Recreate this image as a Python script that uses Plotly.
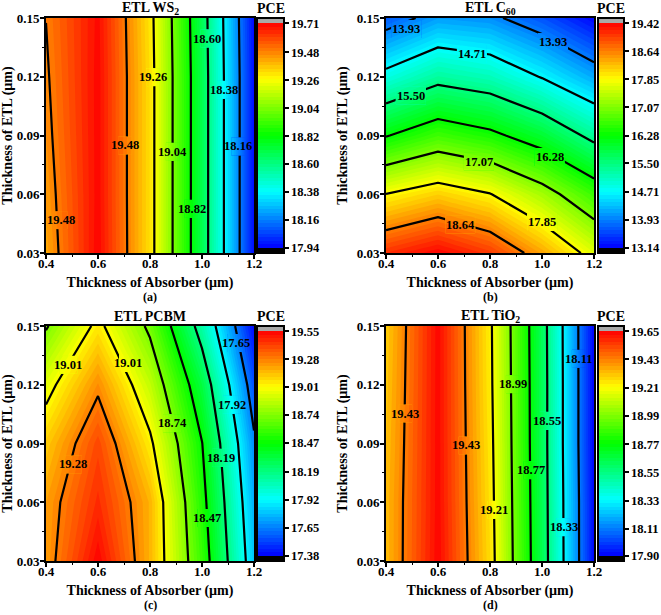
import math
import plotly.graph_objects as go

absorber = [0.4, 0.6, 0.8, 1.0, 1.2]
etl = [0.03, 0.06, 0.09, 0.12, 0.15]

titles = ["ETL WS<sub>2</sub>", "ETL C<sub>60</sub>", "ETL PCBM", "ETL TiO<sub>2</sub>"]
captions = ["(a)", "(b)", "(c)", "(d)"]

ticks_a = ["17.94", "18.16", "18.38", "18.60", "18.82", "19.04", "19.26", "19.48", "19.71"]
ticks_b = ["13.14", "13.93", "14.71", "15.50", "16.28", "17.07", "17.85", "18.64", "19.42"]
ticks_c = ["17.38", "17.65", "17.92", "18.19", "18.47", "18.74", "19.01", "19.28", "19.55"]
ticks_d = ["17.90", "18.11", "18.33", "18.55", "18.77", "18.99", "19.21", "19.43", "19.65"]

pce_a = [
    [19.42, 19.705, 19.32, 18.69, 17.96],
    [19.44, 19.70, 19.32, 18.69, 17.96],
    [19.46, 19.70, 19.32, 18.69, 17.96],
    [19.475, 19.70, 19.32, 18.69, 17.96],
    [19.49, 19.695, 19.31, 18.68, 17.95],
]
pce_b = [
    [19.13, 19.41, 19.07, 18.41, 17.66],
    [17.86, 18.14, 17.87, 17.30, 16.62],
    [16.25, 16.66, 16.41, 15.98, 15.34],
    [14.87, 15.31, 15.13, 14.68, 14.18],
    [13.68, 14.11, 14.02, 13.64, 13.15],
]
pce_c = [
    [19.22, 19.545, 19.17, 18.58, 17.80],
    [19.21, 19.46, 19.17, 18.53, 17.75],
    [19.12, 19.40, 19.04, 18.47, 17.68],
    [18.95, 19.25, 18.88, 18.33, 17.55],
    [18.72, 19.05, 18.70, 18.11, 17.39],
]
pce_d = [
    [19.33, 19.645, 19.27, 18.64, 17.91],
    [19.33, 19.64, 19.26, 18.635, 17.91],
    [19.32, 19.64, 19.25, 18.63, 17.90],
    [19.31, 19.64, 19.24, 18.63, 17.90],
    [19.30, 19.64, 19.235, 18.625, 17.90],
]

labels_a = [("19.48", .456, .0467), ("19.48", .705, .0849), ("19.26", .812, .1197), ("19.04", .888, .0817),
            ("18.82", .960, .0526), ("18.60", 1.021, .1395), ("18.38", 1.085, .1133), ("18.16", 1.14, .0844)]
labels_b = [("13.93", .478, .1444), ("13.93", 1.042, .1378), ("14.71", .73, .1316), ("15.50", .495, .1104),
            ("16.28", 1.029, .079), ("17.07", .757, .0767), ("17.85", 1.001, .0458), ("18.64", .686, .0445)]
labels_c = [("19.01", .486, .1302), ("19.01", .715, .1311), ("19.28", .503, .0793), ("18.74", .885, .1004),
            ("18.47", 1.018, .052), ("18.19", 1.074, .0827), ("17.92", 1.115, .1098), ("17.65", 1.132, .1413)]
labels_d = [("19.43", .474, .1053), ("19.43", .706, .089), ("19.21", .817, .0562), ("18.99", .888, .1202),
            ("18.77", .956, .0764), ("18.55", 1.019, .1016), ("18.33", 1.083, .0472), ("18.11", 1.142, .1333)]

W, H = 661, 615
FONT = "Liberation Serif"
RAINBOW = [(0, (0, 0, 255)), (.25, (0, 255, 255)), (.5, (0, 255, 0)), (.75, (255, 255, 0)), (1, (255, 0, 0))]


def rainbow(f):
    f = max(0, min(1, f))
    for (a, ca), (b, cb) in zip(RAINBOW, RAINBOW[1:]):
        if f <= b:
            t = (f - a) / (b - a)
            return "rgb(%d,%d,%d)" % tuple(round(p + (q - p) * t) for p, q in zip(ca, cb))
    return "rgb(255,0,0)"


def surface(z, px, py):
    """Value of the read-off table z at (px, py), used to repaint the fill under a contour label."""
    i = min(sum(1 for v in absorber[1:-1] if v <= px), len(absorber) - 2)
    j = min(sum(1 for v in etl[1:-1] if v <= py), len(etl) - 2)
    t = (px - absorber[i]) / (absorber[i + 1] - absorber[i])
    u = (py - etl[j]) / (etl[j + 1] - etl[j])
    return ((1 - t) * (1 - u) * z[j][i] + t * (1 - u) * z[j][i + 1]
            + (1 - t) * u * z[j + 1][i] + t * u * z[j + 1][i + 1])


def make_scale(start, end, cs, low, high):
    """Colour scale over the levels start..end: rainbow between low and high, black below, grey above."""
    d0, d1 = start - cs / 2, end + cs / 2
    stops = []
    for k in range(121):
        v = d0 + (d1 - d0) * k / 120
        if v < low:
            c = "black"
        elif v > high:
            c = "#a8a8a8"
        else:
            c = rainbow((v - low) / (high - low))
        stops.append([k / 120, c])
    return stops


panels = [
    (pce_a, ticks_a, labels_a, (46, 254, 18, 253), (257, 284), 7),
    (pce_b, ticks_b, labels_b, (386, 594, 18, 253), (598, 624), 15),
    (pce_c, ticks_c, labels_c, (46, 254, 326, 561), (257, 284), 9),
    (pce_d, ticks_d, labels_d, (386, 594, 326, 561), (598, 624), 7),
]

fig = go.Figure()
annotations = []
SUB = 8
GAP_Y = 18 / 235 * .12 / 2
BOLD = dict(family=FONT, color="black", weight=700)

for i, (z, ticks, labels, (x0, x1, y0, y1), (c0, c1), half_gap) in enumerate(panels):
    n = "" if i == 0 else str(i + 1)
    low, high = float(ticks[0]), float(ticks[-1])
    major = (high - low) / 8
    cs = major / SUB
    start, end = low - cs, high + cs
    gap_x = half_gap / 208 * .8

    fig.add_trace(go.Contour(
        x=absorber, y=etl, z=z, xaxis="x" + n, yaxis="y" + n,
        colorscale=make_scale(start, end, cs, low, high), autocontour=False,
        line=dict(width=0, smoothing=0), hoverinfo="skip",
        contours=dict(coloring="fill", start=start, end=end, size=cs, showlines=False),
        colorbar=dict(
            x=c0 / W, xanchor="left", xpad=0, ypad=0, y=1 - y1 / H, yanchor="bottom",
            len=(y1 - y0) / H, lenmode="fraction", thickness=c1 - c0, thicknessmode="pixels",
            outlinecolor="black", outlinewidth=2, tickmode="array",
            tickvals=[float(t) for t in ticks], ticktext=ticks, ticks="outside", ticklen=4,
            tickwidth=1.5, tickcolor="black", tickfont=dict(size=12.5, **BOLD),
        ),
    ))
    fig.add_trace(go.Contour(
        x=absorber, y=etl, z=z, xaxis="x" + n, yaxis="y" + n, showscale=False,
        autocontour=False, colorscale=[[0, "black"], [1, "black"]], hoverinfo="skip",
        line=dict(color="black", width=2.2, smoothing=0),
        contours=dict(coloring="none", start=low + major, end=high - major, size=major),
    ))
    # Repaint the fill under each label so the contour line breaks there.
    for text, lx, ly in labels:
        px = [lx - gap_x + 2 * gap_x * k / 6 for k in range(7)]
        py = [ly - GAP_Y + 2 * GAP_Y * k / 3 for k in range(4)]
        patch = [[surface(z, a, b) for a in px] for b in py]
        flat = [v for row in patch for v in row]
        k0 = math.floor((min(flat) - start) / cs)
        k1 = max(k0 + 1, math.ceil((max(flat) - start) / cs))
        s0, s1 = start + k0 * cs, start + k1 * cs
        fig.add_trace(go.Contour(
            x=px, y=py, z=patch, xaxis="x" + n, yaxis="y" + n, showscale=False,
            colorscale=make_scale(s0, s1, cs, low, high), autocontour=False, hoverinfo="skip",
            line=dict(width=0, smoothing=0),
            contours=dict(coloring="fill", start=s0, end=s1, size=cs, showlines=False),
        ))

    common = dict(
        showline=True, linecolor="black", linewidth=2, mirror=True, ticks="outside", ticklen=4,
        tickwidth=1.5, tickcolor="black", showgrid=False, zeroline=False,
        tickfont=dict(size=13, **BOLD),
    )
    fig.update_layout({
        "xaxis" + n: dict(
            domain=[x0 / W, x1 / W], range=[.4, 1.2], tickvals=[.4, .6, .8, 1.0, 1.2],
            ticktext=["0.4", "0.6", "0.8", "1.0", "1.2"], anchor="y" + n, ticklabelstandoff=-7,
            minor=dict(dtick=.1, ticks="outside", ticklen=2, tickwidth=1, tickcolor="black"),
            title=dict(text="Thickness of Absorber (µm)", standoff=8, font=dict(size=14, **BOLD)),
            **common),
        "yaxis" + n: dict(
            domain=[1 - y1 / H, 1 - y0 / H], range=[.03, .15], tickvals=[.03, .06, .09, .12, .15],
            ticktext=["0.03", "0.06", "0.09", "0.12", "0.15"], anchor="x" + n, ticklabelstandoff=-2,
            minor=dict(dtick=.015, ticks="outside", ticklen=2, tickwidth=1, tickcolor="black"),
            title=dict(text="Thickness of ETL (µm)", standoff=6, font=dict(size=14, **BOLD)),
            **common),
    })
    for text, lx, ly in labels:
        annotations.append(dict(
            x=lx, y=ly, xref="x" + n, yref="y" + n, text=text, showarrow=False, borderpad=0,
            font=dict(size=12.5, **BOLD)))
    for text, cx, cy, size in (
        (titles[i], (x0 + x1) / 2, y0 - 10, 14),
        ("PCE", (c0 + c1) / 2, y0 - 10, 14),
        (captions[i], (x0 + x1) / 2, y1 + 44, 12),
    ):
        annotations.append(dict(
            x=cx / W, y=1 - cy / H, xref="paper", yref="paper", text=text, showarrow=False,
            xanchor="center", yanchor="middle", font=dict(size=size, **BOLD)))

fig.update_layout(
    width=W, height=H, margin=dict(l=0, r=0, t=0, b=0, autoexpand=False),
    paper_bgcolor="white", plot_bgcolor="white", showlegend=False, annotations=annotations,
    font=dict(family=FONT, color="black"),
)
fig.write_html("out.html", config=dict(displayModeBar=False),
               post_script="document.body.style.margin='0';document.documentElement.style.overflow='hidden';")
